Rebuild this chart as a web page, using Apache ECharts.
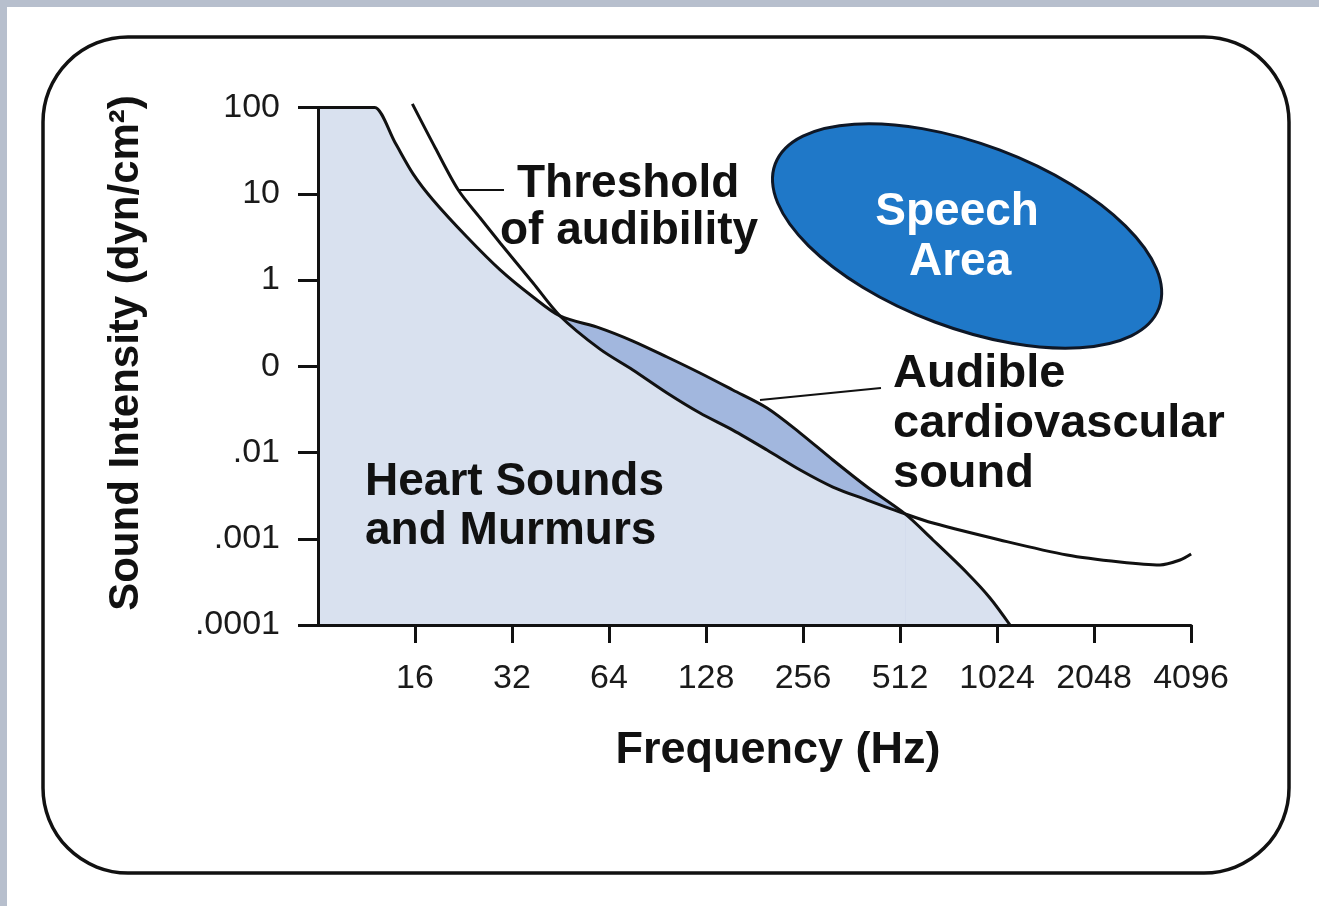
<!DOCTYPE html>
<html>
<head>
<meta charset="utf-8">
<style>
html,body{margin:0;padding:0;background:#ffffff;}
#chart{width:1319px;height:906px;}
</style>
<script src="https://cdn.jsdelivr.net/npm/echarts@6.0.0/dist/echarts.min.js"></script>
</head>
<body>
<div id="chart"></div>
<script>
// ---- data ----
const freqTicks = [16, 32, 64, 128, 256, 512, 1024, 2048, 4096];
const intensityTicks = [100, 10, 1, 0.1, 0.01, 0.001, 0.0001];
const intensityTickLabels = ['100', '10', '1', '0', '.01', '.001', '.0001'];

// Heart sounds and murmurs (upper boundary of shaded region)
const heartFreq = [8, 11.6, 12.0, 13.9, 15.8, 18.2, 23.2, 29.4, 37.2, 45.1, 60.0, 75.9, 96.9, 122.6, 155, 198, 251, 317, 405, 531, 648, 827, 974, 1124];
const heartIntensity = [100, 100, 100, 38.7, 16.9, 8.47, 3.15, 1.31, 0.635, 0.383, 0.277, 0.196, 0.128, 0.0835, 0.0531, 0.0328, 0.0168, 0.00818, 0.00398, 0.00194, 0.000968, 0.000401, 0.000206, 0.0001];

// Threshold of audibility
const thresholdFreq = [15.7, 18.5, 21.8, 25.5, 29.4, 37.2, 45.1, 60.0, 75.9, 96.9, 122.6, 155, 198, 251, 317, 405, 531, 648, 1046, 1689, 2466, 3281, 3787, 4100];
const thresholdIntensity = [110, 33.9, 11.05, 5.23, 2.69, 0.923, 0.383, 0.158, 0.0906, 0.049, 0.0287, 0.0182, 0.0107, 0.00627, 0.00398, 0.00281, 0.00194, 0.00152, 0.000968, 0.000648, 0.000537, 0.000496, 0.000567, 0.000665];

// Speech area ellipse: centre, end of major semi-axis, end of minor semi-axis (freq, intensity)
const speechCenter = [827, 3.24];
const speechMajorEnd = [3258, 0.473];
const speechMinorEnd = [1042, 32.2];

// overlap ("audible cardiovascular sound") between the two crossing points
const lensStartFreq = 45.1;
const lensEndFreq = 531;

// ---- build ----
const FONT = '"Liberation Sans", Arial, Helvetica, sans-serif';
const zip = (a, b) => a.map((v, i) => [v, b[i]]);
const heartData = zip(heartFreq, heartIntensity);
const thresholdData = zip(thresholdFreq, thresholdIntensity);
const inLens = p => p[0] >= lensStartFreq - 1e-9 && p[0] <= lensEndFreq + 1e-9;
const lensTop = heartData.filter(inLens);
const lensBottom = thresholdData.filter(inLens);

const LIGHT = '#d9e1ef';
const DARK = '#a2b7de';
const INK = '#111111';
const SMOOTH = 0.3;

const chart = echarts.init(document.getElementById('chart'), null, {renderer: 'canvas'});

const option = {
  animation: false,
  backgroundColor: '#ffffff',
  grid: {left: 318, right: 128, top: 107.5, bottom: 281, containLabel: false},
  xAxis: {
    type: 'log', logBase: 2, min: 8, max: 4096,
    z: 10,
    axisLine: {lineStyle: {color: INK, width: 3}},
    axisTick: {show: true, length: 18, customValues: freqTicks, lineStyle: {color: INK, width: 3}},
    axisLabel: {customValues: freqTicks, fontSize: 34, fontFamily: FONT, color: '#1a1a1a', margin: 37,
      formatter: v => String(Math.round(v))},
    splitLine: {show: false}, minorTick: {show: false}
  },
  yAxis: {
    type: 'log', logBase: 10, min: 0.0001, max: 100,
    z: 10,
    axisLine: {lineStyle: {color: INK, width: 3}},
    axisTick: {show: true, length: 20, customValues: intensityTicks, lineStyle: {color: INK, width: 3}},
    axisLabel: {customValues: intensityTicks, fontSize: 34, fontFamily: FONT, color: '#1a1a1a', margin: 38,
      formatter: v => {
        const i = intensityTicks.findIndex(t => Math.abs(Math.log10(t) - Math.log10(v)) < 1e-6);
        return i >= 0 ? intensityTickLabels[i] : '';
      }},
    splitLine: {show: false}, minorTick: {show: false}
  },
  graphic: [
    {type: 'rect', z: -20, shape: {x: 0, y: 0, width: 1319, height: 7}, style: {fill: '#b7bfcd'}},
    {type: 'rect', z: -20, shape: {x: 0, y: 0, width: 7, height: 906}, style: {fill: '#b7bfcd'}},
    {type: 'rect', z: -10, shape: {x: 43, y: 37, width: 1246, height: 836, r: 85}, style: {fill: '#ffffff', stroke: INK, lineWidth: 3.5}},
    // y axis title
    {type: 'text', z: 50, x: 126, y: 353, rotation: Math.PI / 2,
      style: {text: 'Sound Intensity (dyn/cm²)', font: 'bold 42px ' + FONT, fill: INK, align: 'center', verticalAlign: 'middle'}},
    // x axis title
    {type: 'text', z: 50, x: 778, y: 751,
      style: {text: 'Frequency (Hz)', font: 'bold 45px ' + FONT, fill: INK, align: 'center', verticalAlign: 'middle'}},
    // Threshold annotation
    {type: 'line', z: 50, shape: {x1: 458, y1: 190, x2: 504, y2: 190}, style: {stroke: INK, lineWidth: 2}},
    {type: 'text', z: 50, x: 517, y: 184, style: {text: 'Threshold', font: 'bold 46px ' + FONT, fill: INK, align: 'left', verticalAlign: 'middle'}},
    {type: 'text', z: 50, x: 500, y: 231, style: {text: 'of audibility', font: 'bold 46px ' + FONT, fill: INK, align: 'left', verticalAlign: 'middle'}},
    // Audible cardiovascular sound annotation
    {type: 'line', z: 50, shape: {x1: 760, y1: 400, x2: 881, y2: 388}, style: {stroke: INK, lineWidth: 2}},
    {type: 'text', z: 50, x: 893, y: 374, style: {text: 'Audible', font: 'bold 47px ' + FONT, fill: INK, align: 'left', verticalAlign: 'middle'}},
    {type: 'text', z: 50, x: 893, y: 424, style: {text: 'cardiovascular', font: 'bold 47px ' + FONT, fill: INK, align: 'left', verticalAlign: 'middle'}},
    {type: 'text', z: 50, x: 893, y: 474, style: {text: 'sound', font: 'bold 47px ' + FONT, fill: INK, align: 'left', verticalAlign: 'middle'}},
    // Heart sounds annotation
    {type: 'text', z: 50, x: 365, y: 482, style: {text: 'Heart Sounds', font: 'bold 46px ' + FONT, fill: INK, align: 'left', verticalAlign: 'middle'}},
    {type: 'text', z: 50, x: 365, y: 531, style: {text: 'and Murmurs', font: 'bold 46px ' + FONT, fill: INK, align: 'left', verticalAlign: 'middle'}}
  ],
  series: [
    {name: 'Heart Sounds and Murmurs (fill)', type: 'line', data: heartData, smooth: SMOOTH, symbol: 'none',
      lineStyle: {width: 0, opacity: 0}, areaStyle: {color: LIGHT, opacity: 1, origin: 'start'}, z: 1, silent: true},
    {name: 'Audible cardiovascular sound', type: 'line', data: lensTop, smooth: SMOOTH, symbol: 'none',
      lineStyle: {width: 0, opacity: 0}, areaStyle: {color: DARK, opacity: 1, origin: 'start'}, z: 2, silent: true},
    {name: 'mask', type: 'line', data: lensBottom, smooth: SMOOTH, symbol: 'none',
      lineStyle: {width: 0, opacity: 0}, areaStyle: {color: LIGHT, opacity: 1, origin: 'start'}, z: 3, silent: true},
    {name: 'Heart Sounds and Murmurs', type: 'line', data: heartData, smooth: SMOOTH, symbol: 'none', clip: false,
      lineStyle: {color: INK, width: 3}, z: 4},
    {name: 'Threshold of audibility', type: 'line', data: thresholdData, smooth: SMOOTH, symbol: 'none', clip: false,
      lineStyle: {color: INK, width: 3}, z: 5},
    {name: 'Speech Area', type: 'custom', clip: false, z: 6,
      data: [[speechCenter[0], speechCenter[1], speechMajorEnd[0], speechMajorEnd[1], speechMinorEnd[0], speechMinorEnd[1]]],
      encode: {x: [0, 2, 4], y: [1, 3, 5]},
      renderItem: function (params, api) {
        const c = api.coord([api.value(0), api.value(1)]);
        const m = api.coord([api.value(2), api.value(3)]);
        const n = api.coord([api.value(4), api.value(5)]);
        const rx = Math.hypot(m[0] - c[0], m[1] - c[1]);
        const ry = Math.hypot(n[0] - c[0], n[1] - c[1]);
        const ang = Math.atan2(m[1] - c[1], m[0] - c[0]);
        return {
          type: 'group',
          children: [
            {type: 'ellipse', x: c[0], y: c[1], rotation: -ang, shape: {cx: 0, cy: 0, rx: rx, ry: ry},
              style: {fill: '#1f78c8', stroke: '#0e1726', lineWidth: 3}},
            {type: 'text', x: c[0] - 10, y: c[1] - 24, style: {text: 'Speech', fill: '#ffffff', fontSize: 46, fontWeight: 'bold', fontFamily: FONT, align: 'center', verticalAlign: 'middle'}},
            {type: 'text', x: c[0] - 7, y: c[1] + 26, style: {text: 'Area', fill: '#ffffff', fontSize: 46, fontWeight: 'bold', fontFamily: FONT, align: 'center', verticalAlign: 'middle'}}
          ]
        };
      }
    }
  ]
};
chart.setOption(option);
</script>
</body>
</html>
